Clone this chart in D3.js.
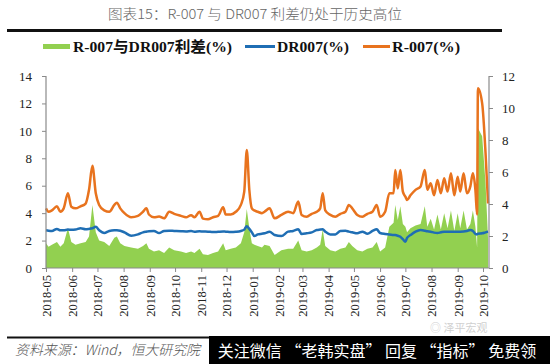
<!DOCTYPE html>
<html><head><meta charset="utf-8">
<script src="https://cdn.jsdelivr.net/npm/d3@7/dist/d3.min.js"></script>
<style>
body{margin:0;background:#fff;}
svg{display:block;}
.serif{font-family:"Liberation Serif","Times New Roman",serif;}
</style></head>
<body>
<svg id="c" width="550" height="364"></svg>
<script>
// ---------- data ----------
const titleText = "图表15：R-007 与 DR007 利差仍处于历史高位";
const seriesNames = ["R-007与DR007利差(%)", "DR007(%)", "R-007(%)"];
const leftTicks = [0,2,4,6,8,10,12,14];
const rightTicks = [0,2,4,6,8,10,12];
const dates = [
"2018-05-01","2018-05-04","2018-05-08","2018-05-14","2018-05-18","2018-05-22","2018-05-27","2018-05-31",
"2018-06-05","2018-06-11","2018-06-17","2018-06-21","2018-06-25","2018-06-29",
"2018-07-03","2018-07-09","2018-07-15","2018-07-21","2018-07-24","2018-07-28",
"2018-08-02","2018-08-10","2018-08-18","2018-08-24","2018-08-28","2018-08-31",
"2018-09-06","2018-09-12","2018-09-18","2018-09-24","2018-09-30",
"2018-10-08","2018-10-14","2018-10-20","2018-10-24","2018-10-30",
"2018-11-03","2018-11-09","2018-11-15","2018-11-21","2018-11-27","2018-11-30",
"2018-12-06","2018-12-12","2018-12-18","2018-12-22","2018-12-25","2018-12-28","2018-12-31",
"2019-01-03","2019-01-07","2019-01-12","2019-01-15","2019-01-21","2019-01-27",
"2019-02-04","2019-02-12","2019-02-18","2019-02-24","2019-02-28",
"2019-03-06","2019-03-12","2019-03-18","2019-03-22","2019-03-25","2019-03-28",
"2019-04-03","2019-04-09","2019-04-15","2019-04-21","2019-04-25","2019-04-29",
"2019-05-05","2019-05-11","2019-05-17","2019-05-23","2019-05-28",
"2019-06-01","2019-06-07","2019-06-12","2019-06-17","2019-06-19","2019-06-22","2019-06-25","2019-06-28",
"2019-07-01","2019-07-03","2019-07-07","2019-07-13","2019-07-19","2019-07-24","2019-07-27","2019-07-31",
"2019-08-04","2019-08-08","2019-08-12","2019-08-16","2019-08-20","2019-08-24","2019-08-28",
"2019-09-01","2019-09-04","2019-09-08","2019-09-12","2019-09-16","2019-09-19","2019-09-22","2019-09-24","2019-09-25","2019-09-30",
"2019-10-04","2019-10-07"
];
const r007 = [
4.35,4.1,4.2,4.5,4.1,4.35,5.45,4.47,
4.35,4.5,4.7,5.7,7.46,5.45,
4.6,4.2,4.1,4.6,4.76,4.35,
4.0,3.7,3.8,4.1,4.35,3.9,
3.7,3.75,3.62,4.1,3.95,
3.8,3.7,3.85,3.7,4.1,
3.6,3.55,3.7,3.8,4.43,3.9,
3.9,4.1,4.6,5.57,8.6,5.7,4.35,
4.2,4.1,4.0,4.1,4.35,3.62,
3.87,4.1,4.0,4.84,3.87,
3.74,3.95,4.1,4.35,5.45,4.2,
3.87,3.74,3.95,4.1,4.6,4.35,
3.87,3.74,3.95,4.1,4.6,
3.74,4.1,5.45,5.45,7.15,5.8,7.15,5.57,
5.2,4.96,5.3,5.7,5.95,7.15,5.7,6.18,
5.3,6.42,5.45,6.54,5.57,6.9,5.3,
6.66,5.57,6.9,5.45,5.95,6.9,5.7,3.9,13.1,12.0,
8.4,4.7
];
const dr007 = [
2.75,2.72,2.7,2.85,2.75,2.75,2.8,2.78,
2.8,2.9,2.82,2.85,2.9,3.0,
2.75,2.55,2.7,2.75,2.75,2.72,
2.6,2.35,2.45,2.6,2.65,2.68,
2.7,2.55,2.7,2.72,2.7,
2.68,2.66,2.7,2.64,2.68,
2.66,2.65,2.62,2.64,2.66,2.65,
2.62,2.64,2.7,2.8,3.05,2.85,2.6,
2.33,2.45,2.5,2.53,2.65,2.41,
2.33,2.65,2.7,2.82,2.48,
2.53,2.6,2.77,2.8,2.82,2.65,
2.45,2.45,2.7,2.72,2.65,2.6,
2.53,2.65,2.5,2.7,2.82,
2.55,2.48,2.45,2.41,2.4,2.35,2.28,2.1,
1.92,2.2,2.4,2.65,2.77,2.72,2.68,2.65,
2.58,2.55,2.6,2.65,2.65,2.65,2.65,
2.65,2.65,2.66,2.7,2.77,2.7,2.48,2.45,2.5,2.53,
2.6,2.65
];
const spread = [
1.8,1.55,1.7,1.9,1.55,1.8,2.9,1.9,
1.7,1.8,1.9,2.3,4.6,2.6,
2.0,1.9,1.6,2.2,2.3,1.8,
1.6,1.5,1.4,1.6,1.8,1.4,
1.2,1.3,1.1,1.5,1.3,
1.2,1.1,1.2,1.1,1.4,
1.0,0.95,1.1,1.2,1.8,1.3,
1.4,1.5,1.8,2.6,4.3,2.9,1.8,
1.7,1.6,1.5,1.7,1.6,0.95,
1.3,1.4,1.4,2.0,1.3,
1.2,1.3,1.5,1.7,2.8,1.6,
1.3,1.2,1.4,1.5,1.9,1.6,
1.3,1.2,1.4,1.5,1.9,
1.2,1.5,3.0,3.3,4.6,3.5,4.5,3.2,
3.0,2.6,2.9,3.1,3.2,4.5,3.0,3.6,
2.8,3.9,2.8,4.0,2.9,4.2,2.7,
4.0,2.9,4.2,2.8,3.2,4.2,3.0,1.5,10.2,9.6,
6.2,2.1
];

// ---------- setup ----------
const parse = d3.timeParse("%Y-%m-%d");
const rows = dates.map((d,i)=>({date:parse(d), r:r007[i], dr:dr007[i], s:spread[i]}));
const svg = d3.select("#c");
const serif = '"Liberation Serif","Times New Roman",serif';
const cjk = '"Noto Sans CJK SC","Noto Sans",sans-serif';
const colGreen = "#92D050", colBlue = "#1F6EB4", colOrange = "#E8731E";
const axisCol = "#8a8a8a";

const x = d3.scaleTime().domain([parse("2018-05-01"), parse("2019-10-01")]).range([46,483]);
const yL = d3.scaleLinear().domain([0,14]).range([268,76]);
const yR = d3.scaleLinear().domain([0,12]).range([268,76]);

// title
svg.append("text").attr("x",108).attr("y",19).attr("textLength",294).attr("lengthAdjust","spacingAndGlyphs")
  .style("font-family",cjk).style("font-size","13.5px").style("font-weight",300).attr("fill","#666").text(titleText);
svg.append("rect").attr("x",7).attr("y",29).attr("width",495).attr("height",3).attr("fill","#111");

// legend
const lg = svg.append("g").style("font-family",'"Liberation Serif","Noto Sans CJK SC",serif').style("font-weight","bold").style("font-size","15px").attr("fill","#111");
lg.append("rect").attr("x",43).attr("y",44).attr("width",27).attr("height",5).attr("fill",colGreen);
lg.append("text").attr("x",73).attr("y",52).attr("textLength",159).attr("lengthAdjust","spacingAndGlyphs").text(seriesNames[0]);
lg.append("line").attr("x1",245).attr("x2",275).attr("y1",46.5).attr("y2",46.5).attr("stroke",colBlue).attr("stroke-width",3);
lg.append("text").attr("x",277).attr("y",52).attr("textLength",72).attr("lengthAdjust","spacingAndGlyphs").text(seriesNames[1]);
lg.append("line").attr("x1",363).attr("x2",390).attr("y1",46.5).attr("y2",46.5).attr("stroke",colOrange).attr("stroke-width",3);
lg.append("text").attr("x",392).attr("y",52).attr("textLength",68).attr("lengthAdjust","spacingAndGlyphs").text(seriesNames[2]);

// area
const area = d3.area().x(d=>x(d.date)).y0(yL(0)).y1(d=>yL(d.s));
svg.append("path").datum(rows).attr("d",area).attr("fill",colGreen);

// lines
const lineDR = d3.line().x(d=>x(d.date)).y(d=>yL(d.dr)).curve(d3.curveMonotoneX);
const lineR = d3.line().x(d=>x(d.date)).y(d=>yL(d.r)).curve(d3.curveMonotoneX);
svg.append("path").datum(rows).attr("d",lineDR).attr("fill","none").attr("stroke",colBlue).attr("stroke-width",2.5).attr("stroke-linejoin","round");
svg.append("path").datum(rows).attr("d",lineR).attr("fill","none").attr("stroke",colOrange).attr("stroke-width",2.5).attr("stroke-linejoin","round");

// axes
function styleAxis(g){
  g.attr("font-family",null).attr("font-size",null);
  g.select(".domain").remove();
  g.selectAll(".tick line").attr("stroke",axisCol);
  g.selectAll(".tick text").style("font-family",serif).style("font-size","13px").attr("fill","#222");
}
const gl = svg.append("g").attr("transform","translate(46,0)")
  .call(d3.axisLeft(yL).tickValues(leftTicks).tickSize(4).tickPadding(10).tickFormat(d3.format("d")));
styleAxis(gl);
svg.append("line").attr("x1",46).attr("x2",46).attr("y1",76).attr("y2",268).attr("stroke",axisCol).attr("stroke-width",1.2);

const gr = svg.append("g").attr("transform","translate(489,0)")
  .call(d3.axisRight(yR).tickValues(rightTicks).tickSize(4).tickPadding(9).tickFormat(d3.format("d")));
styleAxis(gr);
svg.append("line").attr("x1",489).attr("x2",489).attr("y1",76).attr("y2",268).attr("stroke",axisCol).attr("stroke-width",1.2);

const gx = svg.append("g").attr("transform","translate(0,268)")
  .call(d3.axisBottom(x).ticks(d3.timeMonth.every(1)).tickSize(4).tickFormat(d3.timeFormat("%Y-%m")));
styleAxis(gx);
gx.selectAll(".tick text").attr("transform","rotate(-90)").attr("x",-7).attr("y",0).attr("dy","0.35em")
  .style("text-anchor","end").style("font-size","12.5px");
svg.append("line").attr("x1",46).attr("x2",489).attr("y1",268).attr("y2",268).attr("stroke",axisCol).attr("stroke-width",1.2);

// footer
svg.append("rect").attr("x",7).attr("y",336.5).attr("width",205).attr("height",2).attr("fill","#111");
svg.append("text").attr("x",15).attr("y",355).attr("textLength",185).attr("lengthAdjust","spacingAndGlyphs")
  .style("font-family",cjk).style("font-style","italic").style("font-size","14px").style("font-weight",300).attr("fill","#555")
  .text("资料来源：Wind，恒大研究院");
svg.append("text").attr("x",430).attr("y",332).style("font-family",cjk).style("font-size","11px").attr("fill","#d0d0d0").text("◎  泽平宏观");
svg.append("rect").attr("x",209).attr("y",336).attr("width",341).attr("height",28).attr("fill","#000");
svg.append("text").attr("x",377).attr("y",356.5).attr("text-anchor","middle")
  .style("font-family",cjk).style("font-size","16px").attr("fill","#fff").text("关注微信 “老韩实盘” 回复 “指标” 免费领");
</script>
</body></html>
